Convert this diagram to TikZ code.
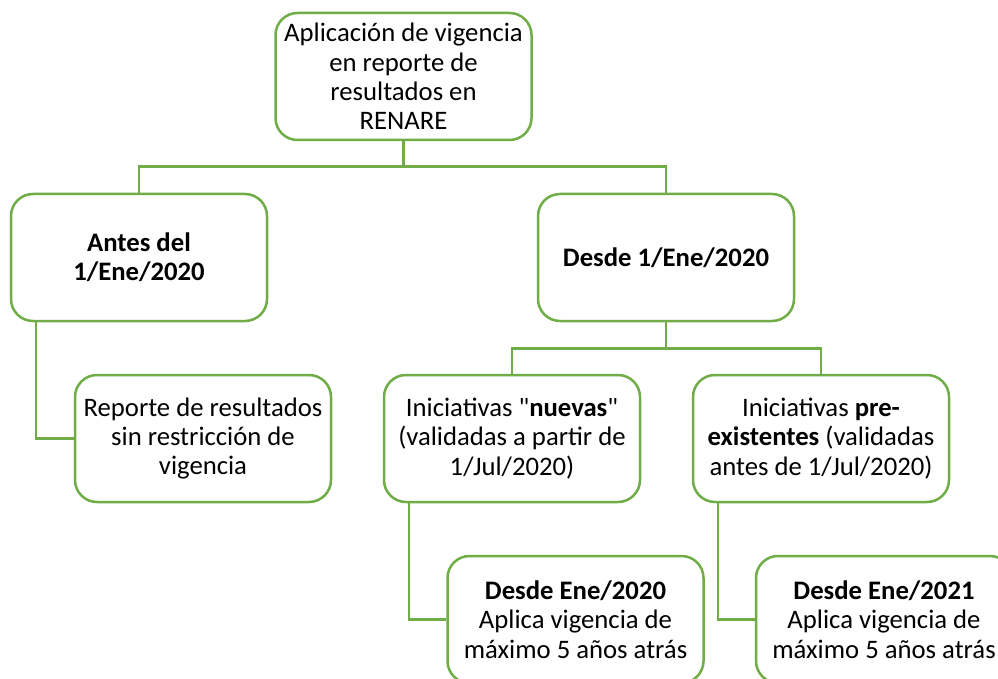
\documentclass[tikz,border=0pt]{standalone}
\usepackage{fontspec}
\newfontfamily\calfont{Carlito}
\definecolor{boxgreen}{HTML}{70AD47}
\begin{document}
\begin{tikzpicture}[x=1pt,y=-1pt,
  box/.style={draw=boxgreen, line width=2.5pt, rounded corners=22pt, fill=white,
    minimum width=256pt, minimum height=127pt, inner sep=0pt, align=center,
    font=\calfont\fontsize{26.7}{29.3}\selectfont},
  link/.style={draw=boxgreen, line width=2.5pt}]
\useasboundingbox (0,0) rectangle (998,679);
\clip (0,0) rectangle (998,679);
\node[box] (top) at (403.5,76.5) {Aplicación de vigencia\\en reporte de\\resultados en\\RENARE};
\node[box] (antes) at (139,257.5) {\textbf{Antes del}\\\textbf{1/Ene/2020}};
\node[box] (desde) at (666,257.5) {\textbf{Desde 1/Ene/2020}};
\node[box] (reporte) at (203,438.5) {Reporte de resultados\\sin restricción de\\vigencia};
\node[box] (nuevas) at (512,438.5) {Iniciativas "\textbf{nuevas}"\\(validadas a partir de\\1/Jul/2020)};
\node[box] (pre) at (821,438.5) {Iniciativas \textbf{pre-}\\\textbf{existentes} (validadas\\antes de 1/Jul/2020)};
\node[box] (b1) at (575.5,619.5) {\textbf{Desde Ene/2020}\\Aplica vigencia de\\máximo 5 años atrás};
\node[box] (b2) at (884,619.5) {\textbf{Desde Ene/2021}\\Aplica vigencia de\\máximo 5 años atrás};
\coordinate (bus1) at (403.5,166.5);
\coordinate (bus2) at (666,348.5);
\draw[link] (top.south) -- (bus1) -| (antes.north);
\draw[link] (bus1) -| (desde.north);
\draw[link] (desde.south) -- (bus2) -| (nuevas.north);
\draw[link] (bus2) -| (pre.north);
\draw[link] ([xshift=26pt]antes.south west) |- (reporte.west);
\draw[link] ([xshift=26pt]nuevas.south west) |- (b1.west);
\draw[link] ([xshift=26pt]pre.south west) |- (b2.west);
\end{tikzpicture}
\end{document}
